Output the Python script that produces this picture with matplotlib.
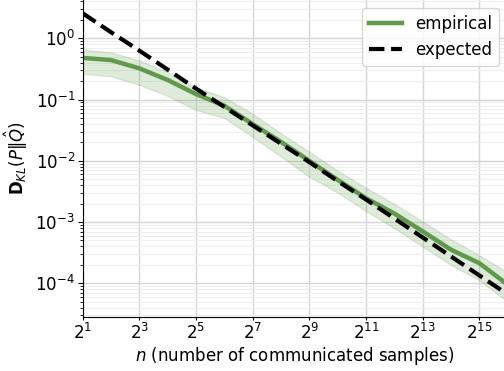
import numpy as np
import matplotlib
matplotlib.use("Agg")
import matplotlib.pyplot as plt
from matplotlib.ticker import LogLocator, FixedLocator

# n = 2^1 ... 2^16
exponentes = [1, 2, 3, 4, 5, 6, 7, 8, 9, 10, 11, 12, 13, 14, 15, 16]

# valores (log10)
empirico_log = [-0.32, -0.355, -0.49, -0.68, -0.91, -1.10, -1.40, -1.69,
                -2.00, -2.31, -2.61, -2.86, -3.15, -3.45, -3.67, -4.02]
banda_sup_log = [-0.18, -0.23, -0.36, -0.55, -0.80, -0.96, -1.23, -1.55,
                 -1.85, -2.16, -2.44, -2.70, -2.99, -3.28, -3.54, -3.82]
banda_inf_log = [-0.58, -0.62, -0.76, -0.94, -1.17, -1.30, -1.61, -1.93,
                 -2.26, -2.52, -2.82, -3.10, -3.40, -3.70, -3.95, -4.30]
esperado_log = [0.41, 0.10, -0.20, -0.51, -0.82, -1.12, -1.42, -1.72,
                -2.02, -2.33, -2.63, -2.94, -3.25, -3.56, -3.87, -4.18]

n = 2.0 ** np.array(exponentes)
empirico = 10.0 ** np.array(empirico_log)
banda_sup = 10.0 ** np.array(banda_sup_log)
banda_inf = 10.0 ** np.array(banda_inf_log)
esperado = 10.0 ** np.array(esperado_log)

verde = "#5e9a4a"

plt.rcParams["font.size"] = 12

fig = plt.figure(figsize=(5.04, 3.71), dpi=100)
ax = fig.add_axes([0.164, 0.1456, 0.843, 0.8544])

ax.fill_between(n, banda_inf, banda_sup, color=verde, alpha=0.2, linewidth=0.8)
ax.plot(n, empirico, color=verde, linewidth=3.2, label="empirical")
ax.plot(n, esperado, color="black", linestyle="--", linewidth=3, label="expected")

ax.set_xscale("log", base=2)
ax.set_yscale("log")
ax.set_xlim(2, 2 ** 16)
ax.set_ylim(10 ** -4.55, 10 ** 0.626)

ax.xaxis.set_major_locator(FixedLocator([2 ** k for k in [1, 3, 5, 7, 9, 11, 13, 15]]))
ax.xaxis.set_minor_locator(FixedLocator([]))
ax.yaxis.set_minor_locator(LogLocator(base=10, subs=np.arange(2, 10), numticks=20))

ax.tick_params(axis="x", which="major", length=2.5, pad=1.5)
ax.tick_params(axis="y", which="major", length=3.5, pad=2)
ax.tick_params(axis="y", which="minor", length=2)

ax.grid(True, which="major", color="#d5d5d5", linewidth=1)
ax.grid(True, which="minor", axis="y", color="#eeeeee", linewidth=0.8)
ax.set_axisbelow(True)

for lado in ["top", "right"]:
    ax.spines[lado].set_visible(False)

ax.set_xlabel(r"$n$ (number of communicated samples)", labelpad=2)
ax.set_ylabel(r"$\mathbf{D}_{KL}(P\|\hat{Q})$", labelpad=4)
ax.legend(loc="upper right", fontsize=12)

fig.savefig("out.png", dpi=100)
